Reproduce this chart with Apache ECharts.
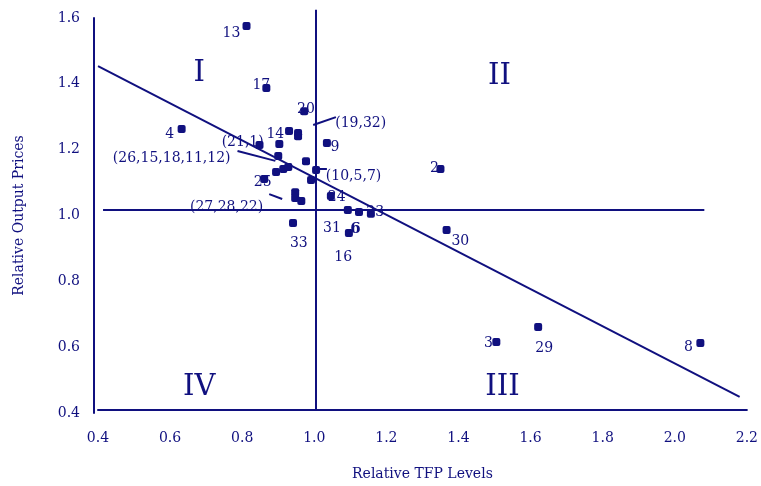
<!DOCTYPE html>
<html>
<head>
<meta charset="utf-8">
<script src="https://cdn.jsdelivr.net/npm/echarts@6/dist/echarts.min.js"></script>
<style>
  html, body { margin: 0; padding: 0; background: #fff; }
  #main { width: 761px; height: 486px; }
</style>
</head>
<body>
<div id="main"></div>
<script>
// points: relative TFP level (x), relative output price (y)
var pointX = [0.812, 0.867, 0.632, 0.972, 0.930, 0.955, 0.955, 0.903, 0.848, 1.035,
  0.977, 0.900, 0.894, 0.914, 0.928, 1.005, 0.991, 0.861, 1.046, 0.947,
  0.947, 0.964, 0.941, 1.093, 1.124, 1.157, 1.096, 1.350, 1.367, 1.505,
  1.621, 2.071];
var pointY = [1.576, 1.387, 1.263, 1.317, 1.257, 1.251, 1.241, 1.217, 1.214, 1.220,
  1.165, 1.181, 1.132, 1.141, 1.147, 1.138, 1.108, 1.111, 1.059, 1.071,
  1.053, 1.044, 0.977, 1.017, 1.011, 1.005, 0.947, 1.141, 0.956, 0.616,
  0.661, 0.613];

// region labels
var labelText = ['13', '17', '4', '20', '(19,32)', '14', '(21,1)', '(26,15,18,11,12)', '9',
  '(10,5,7)', '25', '24', '(27,28,22)', '33', '31', '6', '23', '16', '2', '30', '3', '29', '8'];
var labelX = [0.770, 0.853, 0.599, 0.977, 1.058, 0.892, 0.743, 0.441, 1.057,
  1.032, 0.857, 1.062, 0.655, 0.957, 1.049, 1.114, 1.169, 1.080, 1.333, 1.405, 1.483, 1.638, 2.038];
var labelY = [1.554, 1.396, 1.248, 1.323, 1.281, 1.248, 1.223, 1.175, 1.208,
  1.120, 1.100, 1.056, 1.025, 0.916, 0.961, 0.958, 1.009, 0.874, 1.144, 0.921, 0.613, 0.597, 0.600];
var labelAlign = ['center', 'center', 'center', 'center', 'left', 'center', 'left', 'left', 'center',
  'left', 'center', 'center', 'left', 'center', 'center', 'center', 'center', 'center', 'center', 'center', 'center', 'center', 'center'];
var labelBold = ['6'];

var quadText = ['I', 'II', 'III', 'IV'];
var quadX = [0.681, 1.514, 1.522, 0.681];
var quadY = [1.430, 1.422, 0.478, 0.478];

// lines: quadrant split lines, fitted line, leader lines
var lineCoords = [
  [[1.005, 0.409], [1.005, 1.625]],
  [[0.414, 1.017], [2.082, 1.017]],
  [[0.400, 1.454], [2.180, 0.449]],
  [[0.997, 1.275], [1.060, 1.299]],
  [[0.787, 1.196], [0.892, 1.166]],
  [[1.005, 1.141], [1.035, 1.141]],
  [[0.875, 1.065], [0.911, 1.050]]
];

var navy = '#10107f';
var serif = '"DejaVu Serif", "Liberation Serif", serif';

var chartDom = document.getElementById('main');
var myChart = echarts.init(chartDom);
var option;

option = {
  animation: false,
  textStyle: { fontFamily: serif, color: navy },
  grid: { left: 98, right: 11, top: 18, bottom: 73, containLabel: false },
  xAxis: {
    type: 'value',
    min: 0.4,
    max: 2.2,
    interval: 0.2,
    offset: -3,
    name: 'Relative TFP Levels',
    nameLocation: 'middle',
    nameGap: 57,
    nameTextStyle: { fontFamily: serif, fontSize: 14, color: navy },
    axisLine: { show: true, lineStyle: { color: navy, width: 2 } },
    axisTick: { show: false },
    splitLine: { show: false },
    axisLabel: {
      margin: 21,
      fontFamily: serif,
      fontSize: 14,
      color: navy,
      formatter: function (v) { return v.toFixed(1); }
    }
  },
  yAxis: {
    type: 'value',
    min: 0.4,
    max: 1.6,
    interval: 0.2,
    offset: 4,
    name: 'Relative Output Prices',
    nameLocation: 'middle',
    nameGap: 68,
    nameTextStyle: { fontFamily: serif, fontSize: 14, color: navy },
    axisLine: { show: true, lineStyle: { color: navy, width: 2 } },
    axisTick: { show: false },
    splitLine: { show: false },
    axisLabel: {
      margin: 14,
      fontFamily: serif,
      fontSize: 14,
      color: navy,
      formatter: function (v) { return v.toFixed(1); }
    }
  },
  series: [
    {
      type: 'lines',
      coordinateSystem: 'cartesian2d',
      clip: false,
      silent: true,
      lineStyle: { color: navy, width: 2, opacity: 1 },
      data: lineCoords.map(function (c) { return { coords: c }; })
    },
    {
      type: 'scatter',
      symbol: 'roundRect',
      symbolSize: 8,
      itemStyle: { color: navy, opacity: 1 },
      data: pointX.map(function (x, i) { return [x, pointY[i]]; })
    },
    {
      type: 'scatter',
      symbolSize: 0,
      silent: true,
      clip: false,
      itemStyle: { opacity: 1 },
      data: labelText.map(function (t, i) {
        return {
          name: t,
          value: [labelX[i], labelY[i]],
          label: {
            align: labelAlign[i],
            fontWeight: labelBold.indexOf(t) >= 0 ? 'bold' : 'normal',
            fontSize: labelBold.indexOf(t) >= 0 ? 15 : 14
          }
        };
      }),
      label: {
        show: true,
        position: 'inside',
        formatter: '{b}',
        fontFamily: serif,
        fontSize: 14,
        color: navy
      }
    },
    {
      type: 'scatter',
      symbolSize: 0,
      silent: true,
      itemStyle: { opacity: 1 },
      data: quadText.map(function (t, i) {
        return { name: t, value: [quadX[i], quadY[i]] };
      }),
      label: {
        show: true,
        position: 'inside',
        formatter: '{b}',
        fontFamily: serif,
        fontSize: 29,
        color: navy
      }
    }
  ]
};

option && myChart.setOption(option);
</script>
</body>
</html>
